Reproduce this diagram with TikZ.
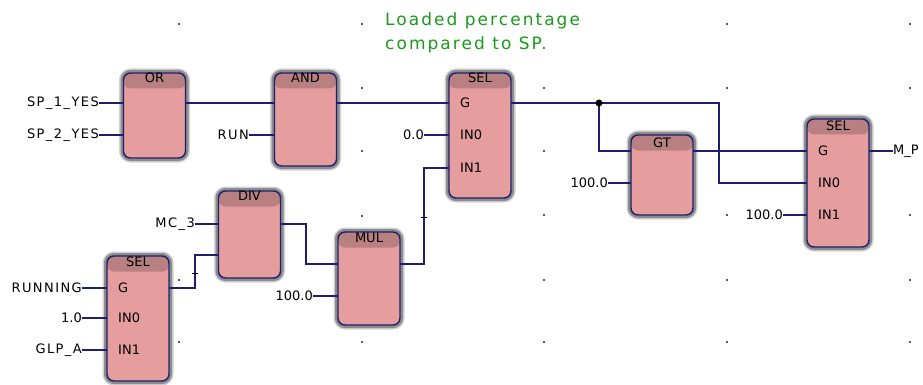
\documentclass[tikz,border=0pt]{standalone}
\usepackage{fontspec}
\setmainfont{DejaVu Sans}
\usetikzlibrary{calc}
\definecolor{wirenavy}{HTML}{1E1E70}
\definecolor{blockpink}{HTML}{E59D9D}
\definecolor{blockhead}{HTML}{B88080}
\definecolor{notegreen}{HTML}{1B9A1B}
\tikzset{
  fblock/.style={draw=wirenavy, line width=1.4pt, fill=blockpink, rounded corners=7pt,
    minimum width=62pt, inner sep=0pt, outer sep=0pt,
    preaction={draw=black!18, line width=9pt},
    preaction={draw=black!45, line width=6pt},
    path picture={\fill[blockhead] (path picture bounding box.north west) rectangle
      ([yshift=-15.5pt]path picture bounding box.north east);}},
  wire/.style={draw=wirenavy, line width=1.4pt},
  title/.style={font=\fontsize{13}{14}\selectfont, inner sep=0pt, anchor=center},
  pinlabel/.style={font=\fontsize{13}{14}\selectfont, inner sep=0pt, anchor=west},
  signal/.style={font=\fontsize{13}{14}\selectfont, inner sep=0pt, anchor=east},
  wordsignal/.style={signal, font=\fontsize{13}{14}\selectfont\addfontfeature{LetterSpace=11}},
  griddot/.style={fill=black!65, inner sep=0pt, minimum size=1.5pt, shape=rectangle}
}
\begin{document}
\begin{tikzpicture}[x=1pt,y=-1pt]
\useasboundingbox (0,0) rectangle (923,385);
\fill[white] (0,0) rectangle (923,385);
% grid dots
\foreach \gx/\gy [count=\i] in {179/24,362/24,727/24,910/24,362/88,544/88,727/88,910/88,
  362/151,544/151,544/215,727/215,910/215,362/216,179/280,544/280,727/280,910/280,
  179/342,362/342,544/342,727/342,910/342}
  \node[griddot] (dot\i) at (\gx,\gy) {};
% note
\node[text=notegreen, font=\fontsize{17}{24}\selectfont\addfontfeature{LetterSpace=12}, anchor=north west,
  inner sep=0pt, align=left] (note) at (385,12) {Loaded percentage\\compared to SP.};
% blocks
\node[fblock, minimum height=85pt] (orblk) at (154.5,115.5) {};
\node[fblock, minimum height=93pt] (andblk) at (305.5,119.5) {};
\node[fblock, minimum height=125pt] (selb) at (480,135.5) {};
\node[fblock, minimum height=87pt] (divblk) at (249.5,234.5) {};
\node[fblock, minimum height=125pt] (sela) at (138,318.5) {};
\node[fblock, minimum height=93pt] (mulblk) at (369,278.5) {};
\node[fblock, minimum height=80pt] (gtblk) at (662,175) {};
\node[fblock, minimum height=128pt] (selc) at (838,183) {};
% titles
\node[title] (ortitle) at ([yshift=-5pt]orblk.north) {OR};
\node[title] (andtitle) at ([yshift=-5pt]andblk.north) {AND};
\node[title] (selbtitle) at ([yshift=-5pt]selb.north) {SEL};
\node[title] (divtitle) at ([yshift=-5pt]divblk.north) {DIV};
\node[title] (selatitle) at ([yshift=-6pt]sela.north) {SEL};
\node[title] (multitle) at ([yshift=-6pt]mulblk.north) {MUL};
\node[title] (gttitle) at ([yshift=-8pt]gtblk.north) {GT};
\node[title] (selctitle) at ([yshift=-7pt]selc.north) {SEL};
% pins
\foreach \blk/\ya/\yb/\yc in {selb/103/135/168, sela/288/318/350, selc/151/183/215} {
  \node[pinlabel] (\blk g) at ($(\blk.west |- 0,\ya)+(11,0)$) {G};
  \node[pinlabel] (\blk ia) at ($(\blk.west |- 0,\yb)+(11,0)$) {IN0};
  \node[pinlabel] (\blk ib) at ($(\blk.west |- 0,\yc)+(11,0)$) {IN1};
}
% signals
\node[wordsignal] (spone) at (99,103) {SP\_1\_YES};
\node[wordsignal] (sptwo) at (99,135) {SP\_2\_YES};
\node[wordsignal] (run) at (249,135) {RUN};
\node[signal] (zero) at (424,135) {0.0};
\node[wordsignal] (mcthree) at (195,224) {MC\_3};
\node[wordsignal] (running) at (82,288) {RUNNING};
\node[signal] (one) at (82,318) {1.0};
\node[wordsignal] (glpa) at (82,350) {GLP\_A};
\node[signal] (hunmul) at (313,296) {100.0};
\node[signal] (hungt) at (608,183) {100.0};
\node[signal] (hunsel) at (783,215) {100.0};
\node[signal, anchor=west] (mp) at (893,151) {M\_P};
% inputs
\draw[wire] (spone) -- (spone -| orblk.west);
\draw[wire] (sptwo) -- (sptwo -| orblk.west);
\draw[wire] (run) -- (run -| andblk.west);
\draw[wire] (zero) -- (zero -| selb.west);
\draw[wire] (mcthree) -- (mcthree -| divblk.west);
\draw[wire] (running) -- (running -| sela.west);
\draw[wire] (one) -- (one -| sela.west);
\draw[wire] (glpa) -- (glpa -| sela.west);
\draw[wire] (hunmul) -- (hunmul -| mulblk.west);
\draw[wire] (hungt) -- (hungt -| gtblk.west);
\draw[wire] (hunsel) -- (hunsel -| selc.west);
\draw[wire] (selc.east |- mp) -- (mp);
% links
\coordinate (fork) at (599,103);
\draw[wire] (orblk.east |- spone) -- (spone -| andblk.west);
\draw[wire] (andblk.east |- spone) -- (spone -| selb.west);
\draw[wire] (selb.east |- fork) -- (fork) -- (719,103) -- (719,183) -- (hungt -| selc.west);
\draw[wire] (fork) -- (fork |- mp) -- (mp -| gtblk.west);
\draw[wire] (gtblk.east |- mp) -- (mp -| selc.west);
\draw[wire] (sela.east |- running) -- (195,288) -- (195,255) -- (divblk.west |- 0,255);
\draw[wire] (divblk.east |- mcthree) -- (306,224) -- (306,264) -- (mulblk.west |- 0,264);
\draw[wire] (mulblk.east |- 0,264) -- (424,264) -- (424,168) -- (selb.west |- 0,168);
\fill[black] (fork) circle (3.5pt);
% ticks on the wires
\draw[black, line width=0.8pt] (192,273) -- (198,273);
\draw[black, line width=0.8pt] (421,217) -- (427,217);
\end{tikzpicture}
\end{document}
